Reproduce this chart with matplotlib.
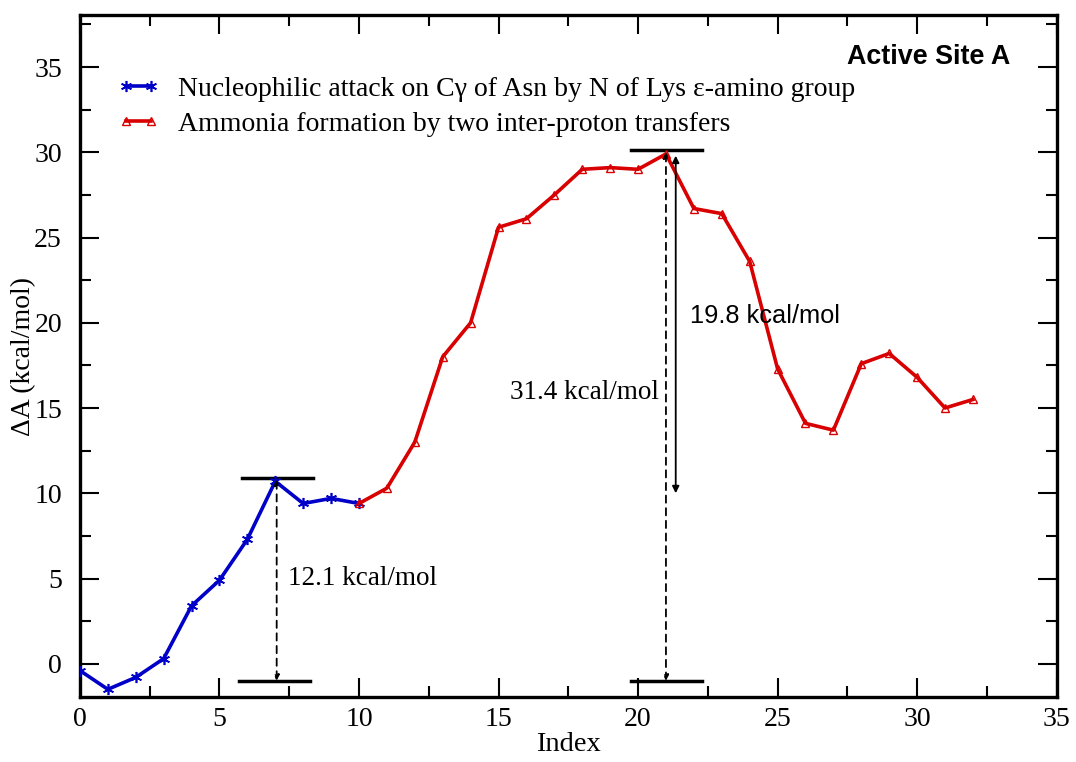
import matplotlib
matplotlib.use("Agg")
import matplotlib.pyplot as plt
from matplotlib.ticker import MultipleLocator

# Data
idx_blue = [0, 1, 2, 3, 4, 5, 6, 7, 8, 9, 10]
dA_blue = [-0.4, -1.5, -0.8, 0.3, 3.4, 4.9, 7.3, 10.7, 9.4, 9.7, 9.4]
idx_red = list(range(10, 33))
dA_red = [9.4, 10.3, 13.0, 18.0, 20.0, 25.6, 26.1, 27.5, 29.0, 29.1, 29.0, 29.9,
          26.7, 26.4, 23.6, 17.3, 14.1, 13.7, 17.6, 18.2, 16.8, 15.0, 15.5]
label_blue = "Nucleophilic attack on C\u03b3 of Asn by N of Lys \u03b5-amino group"
label_red = "Ammonia formation by two inter-proton transfers"
barrier_labels = ["12.1 kcal/mol", "31.4 kcal/mol", "19.8 kcal/mol"]

plt.rcParams['font.family'] = ['Liberation Serif', 'DejaVu Serif']

fig = plt.figure(figsize=(10.76, 7.62), dpi=100)
ax = fig.add_axes([0.0743, 0.0853, 0.9077, 0.8950])

blue = "#0000c8"
red = "#d80000"
ax.plot(idx_blue, dA_blue, color=blue, lw=2.6, marker=(6, 2, 0), ms=8,
        mew=1.2, label=label_blue, zorder=3)
ax.plot(idx_red, dA_red, color=red, lw=2.6, marker='^', ms=6, mfc='none',
        mec=red, mew=1.0, label=label_red, zorder=3)

ax.set_xlim(0, 35)
ax.set_ylim(-1.95, 38.05)

# Annotations: barrier bars
ax.plot([5.8, 8.35], [10.9, 10.9], color='k', lw=2.5)
ax.plot([5.7, 8.25], [-1.0, -1.0], color='k', lw=2.5)
ax.plot([19.75, 22.3], [30.15, 30.15], color='k', lw=2.5)
ax.plot([19.75, 22.3], [-1.0, -1.0], color='k', lw=2.5)

# dashed arrows
ax.annotate("", xy=(7.05, -1.0), xytext=(7.05, 10.8),
            arrowprops=dict(arrowstyle="<|-|>", linestyle=(0, (4, 3)), lw=1.3,
                            color='k', mutation_scale=8, shrinkA=0, shrinkB=0))
ax.annotate("", xy=(21.0, -1.0), xytext=(21.0, 30.0),
            arrowprops=dict(arrowstyle="<|-|>", linestyle=(0, (4, 3)), lw=1.3,
                            color='k', mutation_scale=8, shrinkA=0, shrinkB=0))
# solid arrow
ax.annotate("", xy=(21.35, 10.0), xytext=(21.35, 29.8),
            arrowprops=dict(arrowstyle="<|-|>", lw=1.3, color='k',
                            mutation_scale=10, shrinkA=0, shrinkB=0))

ax.text(7.45, 5.0, barrier_labels[0], fontsize=19.5, va='center', ha='left')
ax.text(20.75, 15.9, barrier_labels[1], fontsize=19.5, va='center', ha='right')
ax.text(21.85, 20.4, barrier_labels[2], fontsize=18.3, va='center', ha='left',
        family='Liberation Sans')

ax.text(0.952, 0.938, "Active Site A", transform=ax.transAxes, fontsize=19.4,
        fontweight='bold', family='Liberation Sans', ha='right', va='center')

ax.set_xlabel("Index", fontsize=20.5, labelpad=0)
ax.set_ylabel("\u0394A (kcal/mol)", fontsize=20)
ax.yaxis.set_label_coords(-0.045, 0.5)

ax.xaxis.set_major_locator(MultipleLocator(5))
ax.xaxis.set_minor_locator(MultipleLocator(2.5))
ax.yaxis.set_major_locator(MultipleLocator(5))
ax.yaxis.set_minor_locator(MultipleLocator(2.5))
ax.tick_params(which='both', direction='in', top=True, right=True,
               labelsize=20, width=1.5)
ax.tick_params(which='major', length=14)
ax.tick_params(axis='x', which='major', pad=7)
ax.tick_params(axis='y', which='major', pad=13)
ax.tick_params(which='minor', length=8)
for s in ax.spines.values():
    s.set_linewidth(2.4)

leg = ax.legend(loc='upper left', bbox_to_anchor=(0.039, 0.910), frameon=False,
                fontsize=20, numpoints=2, handlelength=1.5, handletextpad=0.65,
                labelspacing=0.35, borderaxespad=0, borderpad=0)

fig.savefig("out.png", dpi=100)
